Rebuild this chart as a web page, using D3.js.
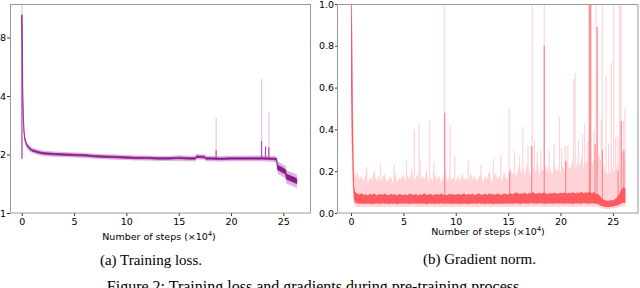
<!DOCTYPE html>
<html>
<head>
<meta charset="utf-8">
<script src="https://cdn.jsdelivr.net/npm/d3@7"></script>
<style>
  body { margin: 0; background: #fff; }
  svg { display: block; }
  .tick text { font-family: "DejaVu Sans", sans-serif; font-size: 9.5px; fill: #000; }
  .tick line { stroke: #333; }
  .title { font-family: "DejaVu Sans", sans-serif; font-size: 9.5px; }
  .cap { font-family: "Liberation Serif", "Times New Roman", serif; font-size: 15px; }
</style>
</head>
<body>
<svg id="fig" width="640" height="288"></svg>
<script>
// ---- training loss (left) ----
var lossSteps = [0, 0.05, 0.1, 0.15, 0.22, 0.3, 0.45, 0.6, 0.8, 1.0,
  1.5, 2, 3, 4, 5, 6, 7, 8, 9, 10,
  11, 12, 13, 14, 15, 16, 16.6, 16.7, 17.5, 17.6,
  18, 19, 20, 21, 22, 23, 24, 24.35, 24.45, 25.2,
  25.3, 26.3];
var lossMean = [10.4, 7.5, 4.0, 3.2, 2.6, 2.4, 2.26, 2.19, 2.14, 2.1,
  2.06, 2.03, 2.01, 2.0, 1.99, 1.98, 1.96, 1.95, 1.94, 1.93,
  1.92, 1.92, 1.91, 1.91, 1.92, 1.91, 1.91, 1.95, 1.94, 1.91,
  1.91, 1.9, 1.91, 1.91, 1.91, 1.91, 1.9, 1.89, 1.72, 1.63,
  1.54, 1.46];
// relative half-width of the pale band and of the dark core
var lossSpread = [0.05, 0.05, 0.05, 0.045, 0.04, 0.038, 0.035, 0.035, 0.035, 0.032,
  0.032, 0.032, 0.03, 0.03, 0.03, 0.03, 0.03, 0.03, 0.03, 0.03,
  0.03, 0.03, 0.03, 0.03, 0.032, 0.032, 0.032, 0.032, 0.032, 0.032,
  0.032, 0.032, 0.032, 0.032, 0.034, 0.034, 0.034, 0.038, 0.075, 0.075,
  0.08, 0.08];
var lossCore = [0.009, 0.009, 0.009, 0.009, 0.009, 0.009, 0.009, 0.009, 0.009, 0.009,
  0.009, 0.009, 0.009, 0.009, 0.009, 0.009, 0.009, 0.009, 0.009, 0.009,
  0.009, 0.009, 0.009, 0.009, 0.009, 0.009, 0.009, 0.009, 0.009, 0.009,
  0.009, 0.009, 0.009, 0.009, 0.009, 0.009, 0.009, 0.011, 0.028, 0.028,
  0.03, 0.03];
var lossSpikeSteps = [0.02, 15.2, 17.5, 18.58, 19.6, 20.6, 22.92, 23.3, 23.62];
var lossSpikeTop   = [11.8, 2.0, 2.0, 3.08, 2.0, 1.98, 4.9, 2.2, 3.3];
var lossSpikeCore  = [10.4, 1.93, 1.92, 2.1, 1.92, 1.92, 2.35, 2.2, 2.18];
var lossTicksX = [0, 5, 10, 15, 20, 25];
var lossTicksY = [1, 2, 4, 8];

// ---- gradient norm (right) ----
var gradHeadSteps = [0, 0.1, 0.2, 0.3];
var gradHeadLightTop = [1.2, 1.0, 0.5, 0.22];
var gradHeadLightLow = [0.4, 0.2, 0.08, 0.04];
var gradHeadDarkTop = [1.2, 0.9, 0.35, 0.12];
var gradHeadDarkLow = [0.6, 0.3, 0.12, 0.06];
// sampled every 0.2 from 0.4 to 26.2 (x 10^4 steps)
var gradLightTop = [0.17,0.20,0.16,0.18,0.15,0.19,0.14,0.17,0.16,0.21,0.15,0.18,0.14,0.17,0.19,0.15,0.16,0.18,0.14,0.20,0.15,0.17,0.16,0.19,
  0.15,0.18,0.16,0.22,0.14,0.17,0.19,0.15,0.18,0.16,0.21,0.14,0.17,0.15,0.19,0.16,0.18,0.14,0.17,0.20,0.15,0.18,0.16,0.17,0.15,
  0.18,0.15,0.19,0.16,0.17,0.14,0.20,0.16,0.18,0.15,0.17,0.19,0.14,0.18,0.16,0.21,0.15,0.17,0.19,0.16,0.18,0.15,0.20,0.17,0.16,
  0.22,0.18,0.20,0.17,0.23,0.19,0.21,0.18,0.24,0.20,0.17,0.22,0.19,0.25,0.18,0.21,0.20,0.23,0.19,0.22,0.18,0.24,0.20,0.21,0.19,
  0.23,0.20,0.25,0.21,0.22,0.26,0.20,0.24,0.22,0.27,0.21,0.25,0.23,0.28,0.22,0.26,0.24,0.29,0.25,0.27,0.20,0.18,0.20,0.19,0.21,
  0.20,0.22,0.24,0.28,0.30,0.25];
var gradLightLow = [0.032,0.030,0.029,0.031,0.030,0.028,0.031,0.030,0.029,0.032,0.030,0.028,0.031,0.030,0.029,0.031,0.030,0.028,0.032,0.030,0.029,0.031,0.030,0.028,
  0.031,0.030,0.029,0.032,0.030,0.028,0.031,0.030,0.029,0.031,0.030,0.028,0.032,0.030,0.029,0.031,0.030,0.028,0.031,0.030,0.029,0.032,0.030,0.028,0.031,
  0.030,0.029,0.031,0.030,0.028,0.032,0.030,0.029,0.031,0.030,0.028,0.031,0.030,0.029,0.032,0.030,0.028,0.031,0.030,0.029,0.031,0.030,0.028,0.032,0.030,
  0.031,0.030,0.032,0.029,0.031,0.030,0.032,0.029,0.031,0.030,0.032,0.029,0.031,0.030,0.032,0.029,0.031,0.030,0.032,0.029,0.031,0.030,0.032,0.029,0.031,
  0.031,0.030,0.032,0.029,0.031,0.030,0.032,0.029,0.031,0.030,0.032,0.029,0.031,0.030,0.032,0.029,0.030,0.028,0.024,0.021,0.020,0.019,0.019,0.020,0.021,
  0.022,0.024,0.027,0.030,0.034,0.033];
var gradDarkTop = [0.100,0.092,0.088,0.095,0.086,0.090,0.084,0.092,0.087,0.094,0.085,0.089,0.091,0.086,0.093,0.088,0.085,0.092,0.087,0.090,0.084,0.091,0.088,0.086,
  0.090,0.085,0.093,0.088,0.086,0.092,0.084,0.090,0.087,0.095,0.086,0.089,0.092,0.085,0.088,0.091,0.086,0.094,0.087,0.089,0.085,0.092,0.088,0.090,0.086,
  0.092,0.087,0.090,0.095,0.086,0.091,0.088,0.093,0.085,0.090,0.094,0.087,0.089,0.092,0.086,0.095,0.088,0.091,0.087,0.093,0.089,0.086,0.094,0.090,0.088,
  0.096,0.090,0.094,0.099,0.091,0.095,0.092,0.098,0.090,0.096,0.093,0.100,0.091,0.095,0.097,0.092,0.099,0.094,0.090,0.096,0.093,0.098,0.092,0.095,0.097,
  0.094,0.099,0.092,0.097,0.095,0.101,0.093,0.098,0.096,0.102,0.094,0.099,0.097,0.103,0.095,0.100,0.092,0.090,0.080,0.068,0.062,0.060,0.058,0.062,0.060,
  0.066,0.075,0.090,0.110,0.125,0.115];
var gradDarkLow = [0.050,0.046,0.044,0.045,0.043,0.046,0.044,0.045,0.042,0.046,0.044,0.045,0.043,0.047,0.044,0.045,0.043,0.046,0.044,0.045,0.042,0.046,0.044,0.045,
  0.044,0.046,0.043,0.045,0.044,0.047,0.043,0.045,0.044,0.046,0.042,0.045,0.044,0.046,0.043,0.045,0.044,0.047,0.043,0.045,0.044,0.046,0.043,0.045,0.044,
  0.045,0.043,0.046,0.044,0.045,0.042,0.046,0.044,0.045,0.043,0.047,0.044,0.045,0.043,0.046,0.044,0.045,0.042,0.046,0.044,0.045,0.043,0.046,0.044,0.045,
  0.046,0.044,0.047,0.045,0.046,0.043,0.047,0.045,0.046,0.044,0.048,0.045,0.046,0.044,0.047,0.045,0.046,0.043,0.047,0.045,0.046,0.044,0.047,0.045,0.046,
  0.046,0.044,0.047,0.045,0.046,0.043,0.047,0.045,0.046,0.044,0.048,0.045,0.046,0.044,0.047,0.045,0.044,0.042,0.036,0.032,0.030,0.029,0.028,0.030,0.031,
  0.033,0.036,0.040,0.045,0.050,0.048];
var gradSpikeSteps = [1.5, 2.8, 4.1, 5.3, 6.05, 6.5, 6.6, 7.5, 7.9, 8.9,
  9.45, 9.9, 11.2, 12.4, 13.6, 14.3, 15.1, 15.6, 16.1, 16.4,
  16.9, 17.3, 17.5, 17.8, 18.1, 18.45, 18.9, 19.4, 19.9, 20.1,
  20.45, 20.7, 21.25, 21.4, 21.7, 22.1, 22.3, 22.6, 22.85, 22.95,
  23.2, 23.4, 23.9, 24.0, 24.35, 24.6, 24.85, 25.08, 25.27, 25.5,
  25.65, 25.78, 26.03, 26.15];
var gradSpikeTop = [0.22, 0.24, 0.23, 0.25, 0.40, 0.43, 0.26, 0.44, 0.24, 1.0,
  0.42, 0.27, 0.25, 0.23, 0.26, 0.28, 0.50, 0.30, 0.27, 0.41,
  0.32, 1.0, 0.35, 0.29, 0.30, 1.0, 0.30, 0.33, 0.46, 0.31,
  0.32, 0.32, 0.64, 0.67, 0.35, 0.38, 0.43, 0.34, 1.0, 1.0,
  0.40, 1.0, 0.45, 1.0, 0.66, 0.33, 0.72, 1.0, 0.36, 0.37,
  1.0, 1.0, 0.44, 0.50];
var gradRedSteps = [8.95, 15.15, 17.25, 18.45, 20.5, 22.75, 22.85, 23.3, 23.5, 24.0, 25.5, 25.8, 26.05];
var gradRedTop   = [0.48, 0.2, 0.32, 0.8, 0.25, 1.0, 1.0, 0.33, 0.89, 0.3, 0.2, 0.44, 0.3];
var gradTicksX = [0, 5, 10, 15, 20, 25];
var gradTicksY = [0, 0.2, 0.4, 0.6, 0.8, 1.0];

var svg = d3.select("#fig");

function frame(x0, x1, y0, y1, id) {
  svg.append("clipPath").attr("id", id)
    .append("rect").attr("x", x0).attr("y", y0).attr("width", x1 - x0).attr("height", y1 - y0);
}

function xTitle(cx, y) {
  var t = svg.append("text").attr("class", "title").attr("x", cx).attr("y", y)
    .attr("text-anchor", "middle").text("Number of steps (\u00d710");
  t.append("tspan").attr("dy", -4).attr("font-size", "6.5px").text("4");
  t.append("tspan").attr("dy", 4).text(")");
}

// ---------- left panel ----------
var xL = d3.scaleLinear().domain([-1.12, 27.55]).range([10, 310]);
var yL = d3.scaleLog().base(2).domain([1, 11.9]).range([213, 4]);
frame(10, 310, 4, 213, "clipL");

var lossData = lossSteps.map(function(s, i) {
  return { s: s, m: lossMean[i], w: lossSpread[i], c: lossCore[i] };
});
var gL = svg.append("g").attr("clip-path", "url(#clipL)");

gL.selectAll("line.lspike").data(lossSpikeSteps).enter().append("line")
  .attr("x1", function(d) { return xL(d); }).attr("x2", function(d) { return xL(d); })
  .attr("y1", yL(1.9)).attr("y2", function(d, i) { return yL(lossSpikeTop[i]); })
  .attr("stroke", "#e9c4e9").attr("stroke-width", 1.2);

gL.append("path").datum(lossData)
  .attr("fill", "#dfb4df")
  .attr("d", d3.area()
    .x(function(d) { return xL(d.s); })
    .y0(function(d) { return yL(d.m * (1 - d.w)); })
    .y1(function(d) { return yL(d.m * (1 + d.w)); }));

gL.selectAll("line.lcore").data(lossSpikeSteps).enter().append("line")
  .attr("x1", function(d) { return xL(d); }).attr("x2", function(d) { return xL(d); })
  .attr("y1", yL(1.9)).attr("y2", function(d, i) { return yL(lossSpikeCore[i]); })
  .attr("stroke", "#b050b0").attr("stroke-width", 1.2);

gL.append("path").datum(lossData)
  .attr("fill", "#8a1a8a")
  .attr("stroke", "#8a1a8a").attr("stroke-width", 0.6)
  .attr("d", d3.area()
    .x(function(d) { return xL(d.s); })
    .y0(function(d) { return yL(d.m * (1 - d.c)); })
    .y1(function(d) { return yL(d.m * (1 + d.c)); }));

svg.append("g").attr("transform", "translate(0,213)")
  .call(d3.axisBottom(xL).tickValues(lossTicksX).tickSize(3).tickPadding(2))
  .call(function(g) { g.select(".domain").remove(); });
svg.append("g").attr("transform", "translate(10,0)")
  .call(d3.axisLeft(yL).tickValues(lossTicksY).tickFormat(d3.format("d")).tickSize(3).tickPadding(1))
  .call(function(g) { g.select(".domain").remove(); });
svg.append("rect").attr("x", 10.5).attr("y", 4.5).attr("width", 300).attr("height", 208.5)
  .attr("fill", "none").attr("stroke", "#999").attr("stroke-width", 1);
xTitle(159, 240);
svg.append("text").attr("class", "cap").attr("x", 151).attr("y", 265)
  .attr("text-anchor", "middle").text("(a) Training loss.");

// ---------- right panel ----------
var xR = d3.scaleLinear().domain([-1.34, 27.4]).range([337, 638]);
var yR = d3.scaleLinear().domain([0, 1]).range([213, 4]);
frame(337, 638, 4, 213, "clipR");

var gradSteps = gradHeadSteps.concat(d3.range(0, gradLightTop.length).map(function(i) { return +(0.4 + 0.2 * i).toFixed(1); }));
var lightTop = gradHeadLightTop.concat(gradLightTop);
var lightLow = gradHeadLightLow.concat(gradLightLow);
var darkTop = gradHeadDarkTop.concat(gradDarkTop);
var darkLow = gradHeadDarkLow.concat(gradDarkLow);
var gradData = gradSteps.map(function(s, i) {
  return { s: s, lt: lightTop[i], ll: lightLow[i], dt: darkTop[i], dl: darkLow[i] };
});
var gR = svg.append("g").attr("clip-path", "url(#clipR)");

gR.selectAll("line.gspike").data(gradSpikeSteps).enter().append("line")
  .attr("x1", function(d) { return xR(d); }).attr("x2", function(d) { return xR(d); })
  .attr("y1", yR(0.05)).attr("y2", function(d, i) { return yR(gradSpikeTop[i]); })
  .attr("stroke", "#ffd6da").attr("stroke-width", 1.3);

gR.append("path").datum(gradData)
  .attr("fill", "#ffd3d8")
  .attr("d", d3.area()
    .x(function(d) { return xR(d.s); })
    .y0(function(d) { return yR(d.ll); })
    .y1(function(d) { return yR(d.lt); }));

gR.selectAll("line.gred").data(gradRedSteps).enter().append("line")
  .attr("x1", function(d) { return xR(d); }).attr("x2", function(d) { return xR(d); })
  .attr("y1", yR(0.05)).attr("y2", function(d, i) { return yR(gradRedTop[i]); })
  .attr("stroke", "#ff8c91").attr("stroke-width", 1.3);

gR.append("path").datum(gradData)
  .attr("fill", "#ff5a60")
  .attr("d", d3.area()
    .x(function(d) { return xR(d.s); })
    .y0(function(d) { return yR(d.dl); })
    .y1(function(d) { return yR(d.dt); }));

svg.append("g").attr("transform", "translate(0,213)")
  .call(d3.axisBottom(xR).tickValues(gradTicksX).tickSize(3).tickPadding(2))
  .call(function(g) { g.select(".domain").remove(); });
svg.append("g").attr("transform", "translate(337,0)")
  .call(d3.axisLeft(yR).tickValues(gradTicksY).tickFormat(d3.format(".1f")).tickSize(2).tickPadding(1))
  .call(function(g) { g.select(".domain").remove(); });
svg.append("rect").attr("x", 337.5).attr("y", 4.5).attr("width", 300.5).attr("height", 208.5)
  .attr("fill", "none").attr("stroke", "#999").attr("stroke-width", 1);
xTitle(488, 235);
svg.append("text").attr("class", "cap").attr("x", 479.5).attr("y", 264)
  .attr("text-anchor", "middle").text("(b) Gradient norm.");

svg.append("text").attr("class", "cap").attr("x", 315).attr("y", 292)
  .attr("text-anchor", "middle").style("font-size", "16px")
  .text("Figure 2: Training loss and gradients during pre-training process.");
</script>
</body>
</html>
